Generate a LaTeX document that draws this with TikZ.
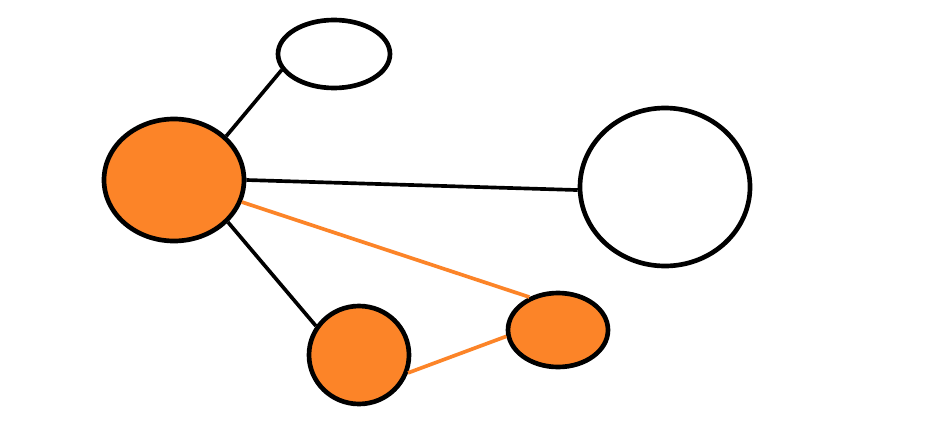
\documentclass[tikz,border=0pt]{standalone}
\usetikzlibrary{shapes.geometric}
\definecolor{blob}{RGB}{252,132,40}
\tikzset{
  blobnode/.style={ellipse,draw=black,line width=1.4mm,inner sep=0pt},
  hot/.style={blobnode,fill=blob},
  cold/.style={blobnode,fill=white},
  link/.style={line width=1.1mm,black},
  hotlink/.style={line width=1.1mm,blob}
}
\begin{document}
\begin{tikzpicture}[x=0.3mm,y=-0.3mm]
\useasboundingbox[fill=white] (0,0) rectangle (940,440);
% nodes
\node[hot,minimum width=42mm,minimum height=36.6mm] (big) at (174,180) {};
\node[cold,minimum width=33.6mm,minimum height=20.4mm] (top) at (334,54) {};
\node[cold,minimum width=51mm,minimum height=47.4mm] (far) at (665,187) {};
\node[hot,minimum width=30mm,minimum height=29.4mm] (low) at (359,355) {};
\node[hot,minimum width=30mm,minimum height=22.2mm] (mid) at (558,330) {};
% links
\draw[link] (big.40) -- (top.197);
\draw[link] (big.0) -- (far.182);
\draw[link] (big.-38) -- (low.146);
\draw[hotlink] (big.-18) -- (mid.131);
\draw[hotlink] (low.-20) -- (mid.187);
\end{tikzpicture}
\end{document}
